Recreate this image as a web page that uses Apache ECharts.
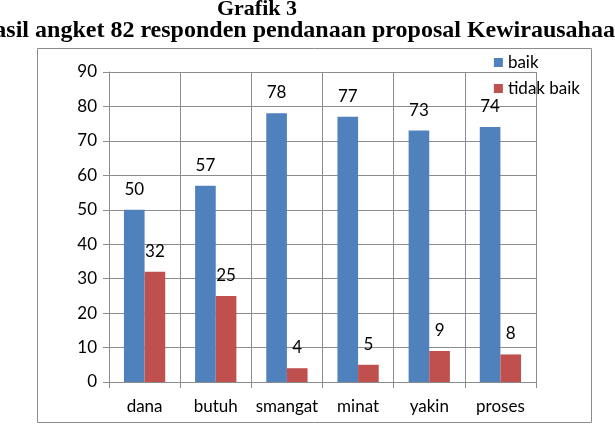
<!DOCTYPE html>
<html>
<head>
<meta charset="utf-8">
<script src="https://cdn.jsdelivr.net/npm/echarts@6/dist/echarts.min.js"></script>
<style>
  html, body { margin: 0; padding: 0; background: #fff; }
  #chart { width: 615px; height: 444px; }
</style>
</head>
<body>
<div id="chart"></div>
<script>
var categories = ['dana', 'butuh', 'smangat', 'minat', 'yakin', 'proses'];
var baik = [50, 57, 78, 77, 73, 74];
var tidakBaik = [32, 25, 4, 5, 9, 8];
var yTicks = { min: 0, max: 90, interval: 10 };

(function(){
  var myChart = echarts.init(document.getElementById('chart'));
  var font = 'Lato, "Open Sans", sans-serif';
  var option = {
    animation: false,
    textStyle: { fontFamily: font },
    graphic: [
      {
        type: 'rect',
        shape: { x: 37.5, y: 48.5, width: 554, height: 374 },
        style: { fill: 'none', stroke: '#8c8c8c', lineWidth: 1 },
        z: -1
      },
      {
        type: 'text',
        x: 257, y: 9,
        style: {
          text: 'Grafik 3', fill: '#000',
          font: 'bold 22px "Liberation Serif", "Times New Roman", serif',
          textAlign: 'center', textVerticalAlign: 'middle'
        }
      },
      {
        type: 'text',
        x: 302, y: 31,
        style: {
          text: 'Hasil angket 82 responden pendanaan proposal Kewirausahaan', fill: '#000',
          font: 'bold 24px "Liberation Serif", "Times New Roman", serif',
          textAlign: 'center', textVerticalAlign: 'middle'
        }
      }
    ],
    legend: {
      orient: 'vertical',
      right: 30,
      top: 49,
      itemWidth: 9,
      itemHeight: 9,
      itemGap: 9,
      icon: 'rect',
      textStyle: { fontSize: 17, color: '#000', fontFamily: font },
      data: ['baik', 'tidak baik']
    },
    grid: {
      left: 109,
      right: 79,
      top: 72,
      bottom: 62
    },
    xAxis: {
      type: 'category',
      data: categories,
      axisLine: { lineStyle: { color: '#8c8c8c' } },
      axisTick: { show: true, interval: 0, length: 6, lineStyle: { color: '#8c8c8c' } },
      splitLine: { show: true, interval: 0, lineStyle: { color: '#8c8c8c' } },
      axisLabel: { interval: 0, fontSize: 17, color: '#000', margin: 16, fontFamily: font }
    },
    yAxis: {
      type: 'value',
      min: yTicks.min,
      max: yTicks.max,
      interval: yTicks.interval,
      axisLine: { show: true, lineStyle: { color: '#8c8c8c' } },
      axisTick: { show: true, length: 6, lineStyle: { color: '#8c8c8c' } },
      splitLine: { lineStyle: { color: '#8c8c8c' } },
      axisLabel: { fontSize: 17, color: '#000', margin: 12, fontFamily: font }
    },
    series: [
      {
        name: 'baik',
        type: 'bar',
        data: baik,
        barGap: '0%',
        barCategoryGap: '42%',
        itemStyle: { color: '#4F81BD' },
        label: { show: true, position: 'top', distance: 12, fontSize: 17, color: '#000', fontFamily: font }
      },
      {
        name: 'tidak baik',
        type: 'bar',
        data: tidakBaik,
        barGap: '0%',
        barCategoryGap: '42%',
        itemStyle: { color: '#C0504D' },
        label: { show: true, position: 'top', distance: 12, fontSize: 17, color: '#000', fontFamily: font }
      }
    ]
  };
  myChart.setOption(option);
  window.addEventListener('resize', function() {
    myChart.resize();
  });
})();
</script>
</body>
</html>
